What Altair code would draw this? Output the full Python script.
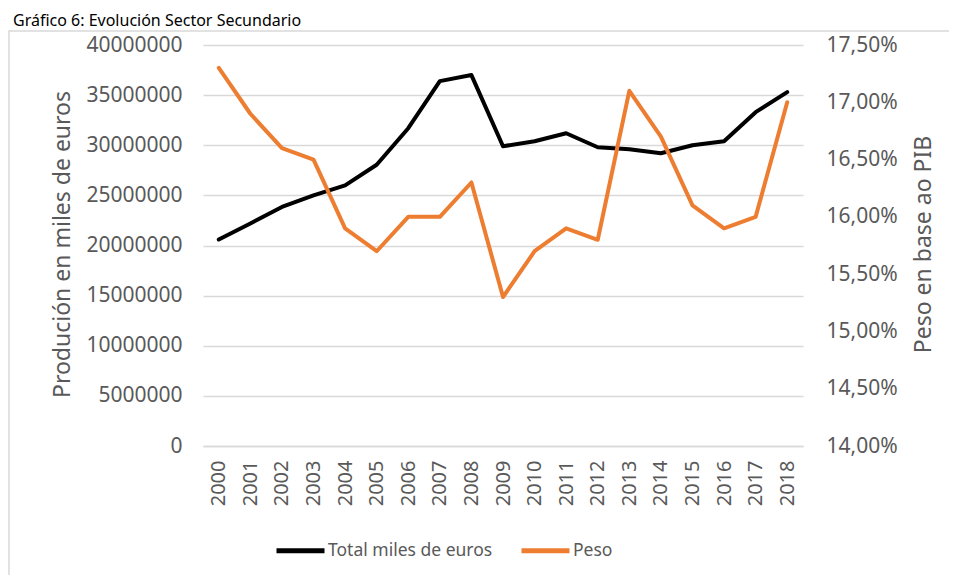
import altair as alt
import pandas as pd

years = [str(y) for y in range(2000, 2019)]
total = [20600000, 22200000, 23850000, 25000000, 26000000, 28050000, 31700000,
         36400000, 37000000, 29900000, 30400000, 31200000, 29800000, 29600000,
         29200000, 30000000, 30400000, 33300000, 35300000]
peso = [17.3, 16.9, 16.6, 16.5, 15.9, 15.7, 16.0, 16.0, 16.3, 15.3, 15.7,
        15.9, 15.8, 17.1, 16.7, 16.1, 15.9, 16.0, 17.0]
series_names = ["Total miles de euros", "Peso"]
series_colors = ["#000000", "#ED7D31"]
left_ticks = list(range(0, 40000001, 5000000))
right_ticks = [14.0, 14.5, 15.0, 15.5, 16.0, 16.5, 17.0, 17.5]
title_text = "Gráfico 6: Evolución Sector Secundario"

df = pd.DataFrame({"year": years, "total": total, "peso": peso})

FONT = "Noto Sans"
GRAY = "#595959"

color = alt.Color(
    "series:N",
    scale=alt.Scale(domain=series_names, range=series_colors),
    legend=alt.Legend(
        title=None, orient="none", legendX=71, legendY=479,
        direction="horizontal", symbolType="stroke", symbolSize=2304,
        symbolStrokeWidth=5, labelFont=FONT, labelFontSize=17.5,
        labelColor=GRAY, columnPadding=18, labelOffset=1, labelLimit=400,
    ),
)

x = alt.X(
    "year:O", sort=None, title=None,
    scale=alt.Scale(type="point", padding=0.5),
    axis=alt.Axis(labelAngle=270, labelColor=GRAY, labelFont=FONT,
                  labelFontSize=20, labelPadding=14, ticks=False,
                  domainColor="#D9D9D9", domainWidth=1.5, grid=False),
)

base = alt.Chart(df)

left = base.transform_calculate(series="'Total miles de euros'").mark_line(
    strokeWidth=4, strokeCap="round", strokeJoin="round"
).encode(
    x=x,
    y=alt.Y("total:Q",
            scale=alt.Scale(domain=[0, 40000000], nice=False),
            axis=alt.Axis(values=left_ticks, format="d",
                          title="Produción en miles de euros",
                          domain=False, ticks=False, labelPadding=21,
                          labelColor=GRAY, labelFont=FONT, labelFontSize=21,
                          gridColor="#D9D9D9", gridWidth=1.5,
                          titleColor=GRAY, titleFont=FONT, titleFontSize=23,
                          titleFontWeight="normal", titleAngle=270,
                          titleX=-141, titleY=199, titleAlign="center",
                          titleBaseline="middle")),
    color=color,
)

right = base.transform_calculate(series="'Peso'").mark_line(
    strokeWidth=4, strokeCap="round", strokeJoin="round"
).encode(
    x=x,
    y=alt.Y("peso:Q",
            scale=alt.Scale(domain=[14, 17.5], nice=False, zero=False),
            axis=alt.Axis(orient="right", values=right_ticks,
                          labelExpr="replace(format(datum.value, '.2f'), '.', ',') + '%'",
                          title="Peso en base ao PIB", grid=False,
                          domain=False, ticks=False, labelPadding=23,
                          labelColor=GRAY, labelFont=FONT, labelFontSize=21,
                          titleColor=GRAY, titleFont=FONT, titleFontSize=23,
                          titleFontWeight="normal", titleAngle=270,
                          titleX=120, titleY=199, titleAlign="center",
                          titleBaseline="middle")),
    color=color,
)

frame_df = pd.DataFrame({"k": [0]})
frame = alt.Chart(frame_df).mark_rect(
    fillOpacity=0, stroke="#D9D9D9", strokeWidth=1.5
).encode(x=alt.value(-194), x2=alt.value(770), y=alt.value(-14), y2=alt.value(560))

title = alt.Chart(frame_df).mark_text(
    text=title_text, align="left", baseline="alphabetic",
    font=FONT, fontSize=16, color="#000000"
).encode(x=alt.value(-190), y=alt.value(-19.5))

chart = alt.layer(frame, title, left, right).resolve_scale(
    y="independent"
).properties(
    width=600, height=401,
    autosize=alt.AutoSizeParams(type="none"),
    padding={"left": 195, "top": 37, "right": 146, "bottom": 129},
).configure_view(strokeWidth=0)

chart.save("out.html", embed_options={"renderer": "svg", "actions": False})
